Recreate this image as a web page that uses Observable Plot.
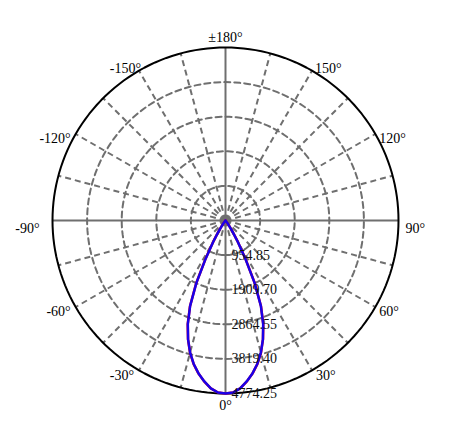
<!DOCTYPE html>
<html>
<head>
<meta charset="utf-8">
<script src="https://cdn.jsdelivr.net/npm/d3@7"></script>
<script src="https://cdn.jsdelivr.net/npm/@observablehq/plot@0.6"></script>
<style>
  html, body { margin: 0; padding: 0; background: #fff; }
</style>
</head>
<body>
<div id="chart"></div>
<script>
// ---- data ----
const maxIntensity = 4774.25;
const ringValues = [954.85, 1909.70, 2864.55, 3819.40, 4774.25];
const ringLabels = ["954.85", "1909.70", "2864.55", "3819.40", "4774.25"];
const angleTicks = [0, 30, 60, 90, 120, 150, 180, -150, -120, -90, -60, -30];
const angleLabels = ["0°", "30°", "60°", "90°", "120°", "150°", "±180°", "-150°", "-120°", "-90°", "-60°", "-30°"];
const gridAngles = [0, 15, 30, 45, 60, 75, 90, 105, 120, 135, 150, 165, 180, 195, 210, 225, 240, 255, 270, 285, 300, 315, 330, 345];

// gamma angles (deg) and intensities (cd), half-plane 0..180
const gamma = [0, 2.5, 5, 7.5, 10, 12.5, 15, 17.5, 20, 22.5, 25, 27.5, 30, 32.5, 35, 37.5, 40, 45, 50, 60, 70, 80, 90, 100, 120, 140, 160, 180];
const intensityC0C180 = [4774.25, 4752, 4650, 4485, 4290, 4060, 3780, 3440, 3050, 2560, 1920, 1200, 690, 350, 150, 60, 25, 10, 6, 4, 3, 2, 1, 0, 0, 0, 0, 0];
const intensityC90C270 = [4774.25, 4752, 4650, 4480, 4285, 4055, 3775, 3435, 3040, 2550, 1900, 1180, 670, 340, 145, 58, 24, 10, 6, 4, 3, 2, 1, 0, 0, 0, 0, 0];

// ---- helpers ----
const rad = d => d * Math.PI / 180;
const toXY = (angleDeg, value) => ({x: value * Math.sin(rad(angleDeg)), y: -value * Math.cos(rad(angleDeg))});

function fullCurve(vals) {
  const pts = [];
  for (let i = gamma.length - 1; i >= 0; i--) pts.push(toXY(-gamma[i], vals[i]));
  for (let i = 1; i < gamma.length; i++) pts.push(toXY(gamma[i], vals[i]));
  return pts;
}

const ringPts = [];
ringValues.forEach((v, k) => {
  for (let a = 0; a <= 360; a += 2) ringPts.push({...toXY(a, v), ring: k});
});
const innerRings = ringPts.filter(d => d.ring < ringValues.length - 1);
const outerRing = ringPts.filter(d => d.ring === ringValues.length - 1);

const spokes = gridAngles.map(a => ({a, ...toXY(a, maxIntensity), solid: a % 90 === 0}));

const angleText = angleTicks.map((a, i) => {
  const p = toXY(a, maxIntensity);
  let anchor = a === 0 || a === 180 ? "middle" : (a > 0 ? "start" : "end");
  let dx = a === 0 || a === 180 ? 0 : (a > 0 ? 4 : -5);
  let dy = 5;
  if (a === 0) dy = 12;
  if (a === 180) dy = -10;
  if (Math.abs(a) === 90) { dy = 8; dx = a > 0 ? 7 : -13; }
  if (Math.abs(a) === 150) { dy = -2; dx = a > 0 ? 3 : 2; }
  return {...p, label: angleLabels[i], anchor, dx, dy};
});

const ringText = ringValues.map((v, i) => ({x: 0, y: -v, label: ringLabels[i]}));

// ---- scales: center at (225,220), radius 173px ----
const W = 460, H = 424, cx = 225, cy = 220, R = 173;
const k = maxIntensity / R;

const grey = "#6f6f6f";
const chart = Plot.plot({
  width: W,
  height: H,
  margin: 0,
  x: {domain: [-cx * k, (W - cx) * k], axis: null},
  y: {domain: [-(H - cy) * k, cy * k], axis: null},
  style: {fontFamily: "'Liberation Serif', 'Times New Roman', serif", fontSize: "14px", background: "#fff", color: "#000"},
  marks: [
    Plot.line(innerRings, {x: "x", y: "y", z: "ring", stroke: grey, strokeWidth: 2, strokeDasharray: "6,4"}),
    Plot.link(spokes.filter(d => !d.solid), {x1: 0, y1: 0, x2: "x", y2: "y", stroke: grey, strokeWidth: 2, strokeDasharray: "6,4"}),
    Plot.link(spokes.filter(d => d.solid), {x1: 0, y1: 0, x2: "x", y2: "y", stroke: grey, strokeWidth: 2}),
    Plot.dot([{x: 0, y: 0}], {x: "x", y: "y", r: 4.5, fill: grey}),
    Plot.line(outerRing, {x: "x", y: "y", stroke: "#000", strokeWidth: 2}),
    Plot.line(fullCurve(intensityC0C180), {x: "x", y: "y", stroke: "#ff0000", strokeWidth: 2.5, curve: "linear"}),
    Plot.line(fullCurve(intensityC90C270), {x: "x", y: "y", stroke: "#1a00e8", strokeWidth: 2.5, curve: "linear"}),
    Plot.text(ringText, {x: "x", y: "y", text: "label", textAnchor: "start", dx: 6, fill: "#111"}),
    ...angleText.map(d => Plot.text([d], {x: "x", y: "y", text: "label", textAnchor: d.anchor, dx: d.dx, dy: d.dy, fill: "#000"}))
  ]
});
document.getElementById("chart").appendChild(chart);
</script>
</body>
</html>
